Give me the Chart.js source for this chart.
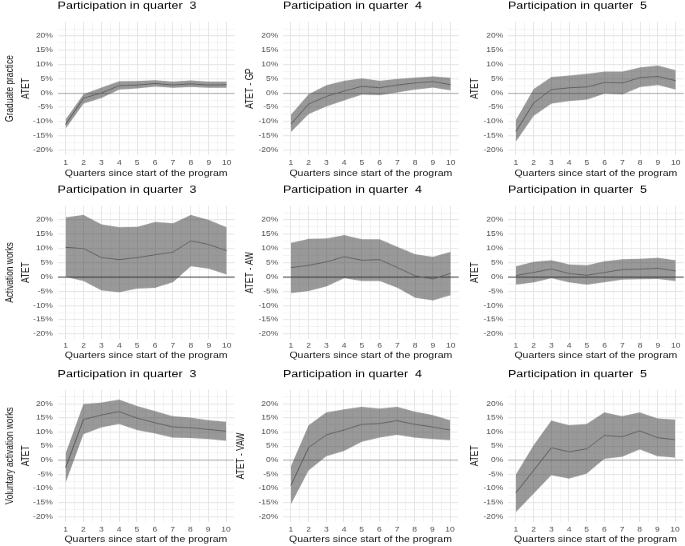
<!DOCTYPE html>
<html>
<head>
<meta charset="utf-8">
<script src="https://cdn.jsdelivr.net/npm/chart.js@4.4.1/dist/chart.umd.min.js"></script>
<style>
  html, body { margin: 0; padding: 0; background: #fff; }
  #wrap { position: relative; width: 685px; height: 546px; overflow: hidden; }
  #wrap canvas { position: absolute; }
</style>
</head>
<body>
<div id="wrap"></div>
<script>
// x axis: quarters since start of the program
const quarters = [1, 2, 3, 4, 5, 6, 7, 8, 9, 10];
const programs = ['Graduate practice', 'Activation works', 'Voluntary activation works'];
const programCodes = ['GP', 'AW', 'VAW'];
const startQuarters = [3, 4, 5];

// ATET estimates with lower / upper band, in %
// Graduate practice
const gpQ3Est = [-11.0, -1.8, 0.0, 2.6, 2.8, 3.3, 2.8, 3.2, 2.8, 2.9];
const gpQ3Lo  = [-12.5, -3.7, -1.8, 1.2, 1.6, 2.2, 1.8, 2.1, 1.8, 1.8];
const gpQ3Hi  = [-9.3, -0.4, 1.9, 4.1, 4.2, 4.5, 4.0, 4.4, 4.0, 4.0];
const gpQ4Est = [-10.9, -3.9, -1.2, 0.7, 2.3, 1.8, 2.8, 3.5, 4.0, 2.9];
const gpQ4Lo  = [-13.7, -7.4, -4.7, -2.6, -0.6, -0.8, 0.2, 1.2, 1.9, 0.9];
const gpQ4Hi  = [-7.6, -0.4, 2.7, 4.3, 5.1, 4.3, 4.9, 5.4, 5.8, 5.3];
const gpQ5Est = [-13.5, -3.5, 1.2, 1.8, 2.1, 3.7, 3.5, 5.4, 5.8, 4.3];
const gpQ5Lo  = [-17.0, -8.0, -3.7, -2.8, -2.3, -0.2, -0.5, 2.1, 2.8, 1.2];
const gpQ5Hi  = [-9.4, 1.4, 5.6, 6.1, 6.7, 7.5, 7.5, 9.0, 9.6, 8.0];
// Activation works
const awQ3Est = [10.4, 10.0, 6.8, 6.1, 6.8, 7.8, 8.7, 12.7, 11.4, 9.2];
const awQ3Lo  = [0.0, -1.4, -4.7, -5.3, -4.1, -3.8, -1.8, 3.8, 2.9, 0.8];
const awQ3Hi  = [20.9, 21.8, 18.5, 17.4, 17.6, 19.3, 18.8, 21.8, 20.0, 17.4];
const awQ4Est = [3.3, 4.1, 5.3, 7.1, 5.9, 6.1, 3.3, 0.4, -0.7, 1.3];
const awQ4Lo  = [-5.6, -4.9, -3.3, -0.4, -1.4, -1.4, -3.8, -7.3, -8.2, -6.4];
const awQ4Hi  = [12.0, 13.4, 13.5, 14.7, 13.2, 13.2, 10.6, 8.0, 7.1, 8.8];
const awQ5Est = [0.5, 1.6, 2.8, 1.2, 0.6, 1.6, 2.6, 2.8, 3.1, 2.1];
const awQ5Lo  = [-2.7, -1.9, -0.4, -1.9, -2.7, -1.8, -0.9, -0.8, -0.7, -1.4];
const awQ5Hi  = [3.8, 5.3, 5.9, 4.4, 4.1, 5.5, 6.2, 6.4, 6.7, 5.9];
// Voluntary activation works
const vawQ3Est = [-2.6, 14.4, 16.0, 17.2, 14.9, 13.3, 11.8, 11.5, 10.9, 10.3];
const vawQ3Lo  = [-8.0, 9.2, 11.6, 12.8, 10.7, 9.5, 8.0, 7.9, 7.5, 6.9];
const vawQ3Hi  = [2.4, 19.9, 20.4, 21.5, 19.2, 17.4, 15.6, 15.1, 14.2, 13.6];
const vawQ4Est = [-8.9, 4.5, 9.0, 10.7, 12.7, 13.0, 14.0, 12.7, 11.8, 10.7];
const vawQ4Lo  = [-15.6, -3.6, 1.4, 3.3, 6.5, 8.0, 9.0, 8.0, 7.5, 7.1];
const vawQ4Hi  = [-2.1, 12.4, 16.9, 18.0, 18.9, 18.3, 18.9, 17.2, 16.0, 14.2];
const vawQ5Est = [-11.5, -3.6, 4.4, 3.0, 4.0, 8.8, 8.3, 10.4, 8.0, 7.3];
const vawQ5Lo  = [-18.3, -11.8, -5.3, -6.5, -4.7, 0.5, 1.2, 3.8, 1.4, 0.9];
const vawQ5Hi  = [-5.0, 5.3, 14.0, 12.4, 12.8, 16.9, 15.6, 16.9, 14.8, 14.4];

const panels = [
  [[gpQ3Est, gpQ3Lo, gpQ3Hi], [gpQ4Est, gpQ4Lo, gpQ4Hi], [gpQ5Est, gpQ5Lo, gpQ5Hi]],
  [[awQ3Est, awQ3Lo, awQ3Hi], [awQ4Est, awQ4Lo, awQ4Hi], [awQ5Est, awQ5Lo, awQ5Hi]],
  [[vawQ3Est, vawQ3Lo, vawQ3Hi], [vawQ4Est, vawQ4Lo, vawQ4Hi], [vawQ5Est, vawQ5Lo, vawQ5Hi]]
];

const FONT = '"Liberation Sans", Arial, Helvetica, sans-serif';
Chart.defaults.font.family = FONT;

// the source picture is squashed vertically, so draw taller and shrink with css
const K = 0.8;

// page layout in css pixels
const cols = [
  { left: 0, width: 236, plotLeft: 57.6, plotRight: 234.7, yPad: 2.5 },
  { left: 236, width: 224, plotLeft: 283, plotRight: 458.7, yPad: 8 },
  { left: 460, width: 225, plotLeft: 508, plotRight: 683.7, yPad: 8.7 }
];
const rows = [
  { top: 0, height: 180, plotTop: 22, plotBottom: 155.1, titleBase: 8.9, tickMid: 162.7, xTitleMid: 173.3, zero: '#a8a8a8' },
  { top: 180, height: 182, plotTop: 206, plotBottom: 339.1, titleBase: 192.7, tickMid: 345.7, xTitleMid: 355.7, zero: '#3a3a3a' },
  { top: 362, height: 184, plotTop: 389.9, plotBottom: 521.8, titleBase: 377, tickMid: 530, xTitleMid: 540, zero: '#a8a8a8' }
];

// grid positions: majors plus ggplot-style minor lines
const xGrid = [];
quarters.forEach(q => { xGrid.push(q); if (q < 10) xGrid.push(q + 0.5); });
const yGrid = [];
for (let v = -20; v <= 22.5; v += 2.5) yGrid.push(v);

const panelTitle = {
  id: 'panelTitle',
  afterDraw(chart, args, opts) {
    const ctx = chart.ctx;
    ctx.save();
    ctx.font = '12.5px ' + FONT;
    ctx.fillStyle = '#000';
    ctx.textAlign = 'left';
    ctx.textBaseline = 'alphabetic';
    ctx.fillText(opts.text, chart.chartArea.left, opts.y);
    ctx.restore();
  }
};

const toPoints = arr => quarters.map((q, i) => ({ x: q, y: arr[i] }));

const wrap = document.getElementById('wrap');

function makePanel(r, c) {
  const row = rows[r], col = cols[c];
  const H = Math.round(row.height / K);
  const k = row.height / H;
  const [est, lo, hi] = panels[r][c];

  const canvas = document.createElement('canvas');
  canvas.width = col.width;
  canvas.height = H;
  canvas.style.left = col.left + 'px';
  canvas.style.top = row.top + 'px';
  canvas.style.width = col.width + 'px';
  canvas.style.height = row.height + 'px';
  wrap.appendChild(canvas);

  let yTitle, yLine;
  if (c === 0) { yTitle = [programs[r], 'ATET']; yLine = '15.5px'; }
  else if (c === 1) { yTitle = 'ATET - ' + programCodes[r]; yLine = 1.2; }
  else { yTitle = 'ATET'; yLine = 1.2; }
  let yPad = col.yPad;
  if (r === 2 && c === 1) yPad = -1;

  const xAxisH = (row.top + row.height - row.plotBottom) / k;

  new Chart(canvas, {
    type: 'line',
    data: {
      datasets: [
        { data: toPoints(est), borderColor: '#5a5a5a', borderWidth: 1, pointRadius: 0, fill: false, tension: 0 },
        { data: toPoints(hi), borderColor: 'rgba(0,0,0,0)', borderWidth: 0, pointRadius: 0, fill: '+1',
          backgroundColor: 'rgba(51,51,51,0.5)', tension: 0 },
        { data: toPoints(lo), borderColor: 'rgba(0,0,0,0)', borderWidth: 0, pointRadius: 0, fill: false, tension: 0 }
      ]
    },
    options: {
      responsive: false,
      animation: false,
      events: [],
      layout: {
        padding: { top: (row.plotTop - row.top) / k, left: 0, right: col.left + col.width - col.plotRight, bottom: 0 }
      },
      plugins: {
        legend: { display: false },
        tooltip: { enabled: false },
        panelTitle: { text: 'Participation in quarter  ' + startQuarters[c], y: (row.titleBase - row.top) / k }
      },
      scales: {
        x: {
          type: 'linear',
          min: 0.55,
          max: 10.45,
          afterBuildTicks: s => { s.ticks = xGrid.map(v => ({ value: v })); },
          afterFit: s => { s.height = xAxisH; },
          border: { display: false },
          grid: {
            drawTicks: false,
            color: ctx => (ctx.tick && Number.isInteger(ctx.tick.value)) ? '#e6e6e6' : '#efefef',
            lineWidth: ctx => (ctx.tick && Number.isInteger(ctx.tick.value)) ? 1 : 0.7
          },
          ticks: {
            autoSkip: false,
            maxRotation: 0,
            padding: (row.tickMid - row.plotBottom) / k - 5.1,
            color: '#4d4d4d',
            font: { size: 8.5 },
            callback: v => Number.isInteger(v) ? String(v) : ''
          },
          title: {
            display: true,
            text: 'Quarters since start of the program',
            color: '#111',
            font: { size: 10.5 },
            padding: { top: 0, bottom: (row.top + row.height - row.xTitleMid) / k - 6.3 }
          }
        },
        y: {
          type: 'linear',
          min: -21.8,
          max: 24.9,
          afterBuildTicks: s => { s.ticks = yGrid.map(v => ({ value: v })); },
          afterFit: s => { s.width = col.plotLeft - col.left; },
          border: { display: false },
          grid: {
            drawTicks: false,
            color: ctx => {
              const v = ctx.tick ? ctx.tick.value : 1;
              if (v === 0) return row.zero;
              return v % 5 === 0 ? '#e6e6e6' : '#efefef';
            },
            lineWidth: ctx => {
              const v = ctx.tick ? ctx.tick.value : 1;
              return v % 5 === 0 ? 1.2 : 0.8;
            }
          },
          ticks: {
            autoSkip: false,
            padding: 4.7,
            color: '#4d4d4d',
            font: { size: 8.5 },
            callback: v => v % 5 === 0 ? v + '%' : ''
          },
          title: {
            display: true,
            text: yTitle,
            color: '#111',
            font: { size: 10.5, lineHeight: yLine },
            padding: { top: yPad, bottom: 0 }
          }
        }
      }
    },
    plugins: [panelTitle]
  });
}

for (let r = 0; r < 3; r++) {
  for (let c = 0; c < 3; c++) makePanel(r, c);
}
</script>
</body>
</html>
